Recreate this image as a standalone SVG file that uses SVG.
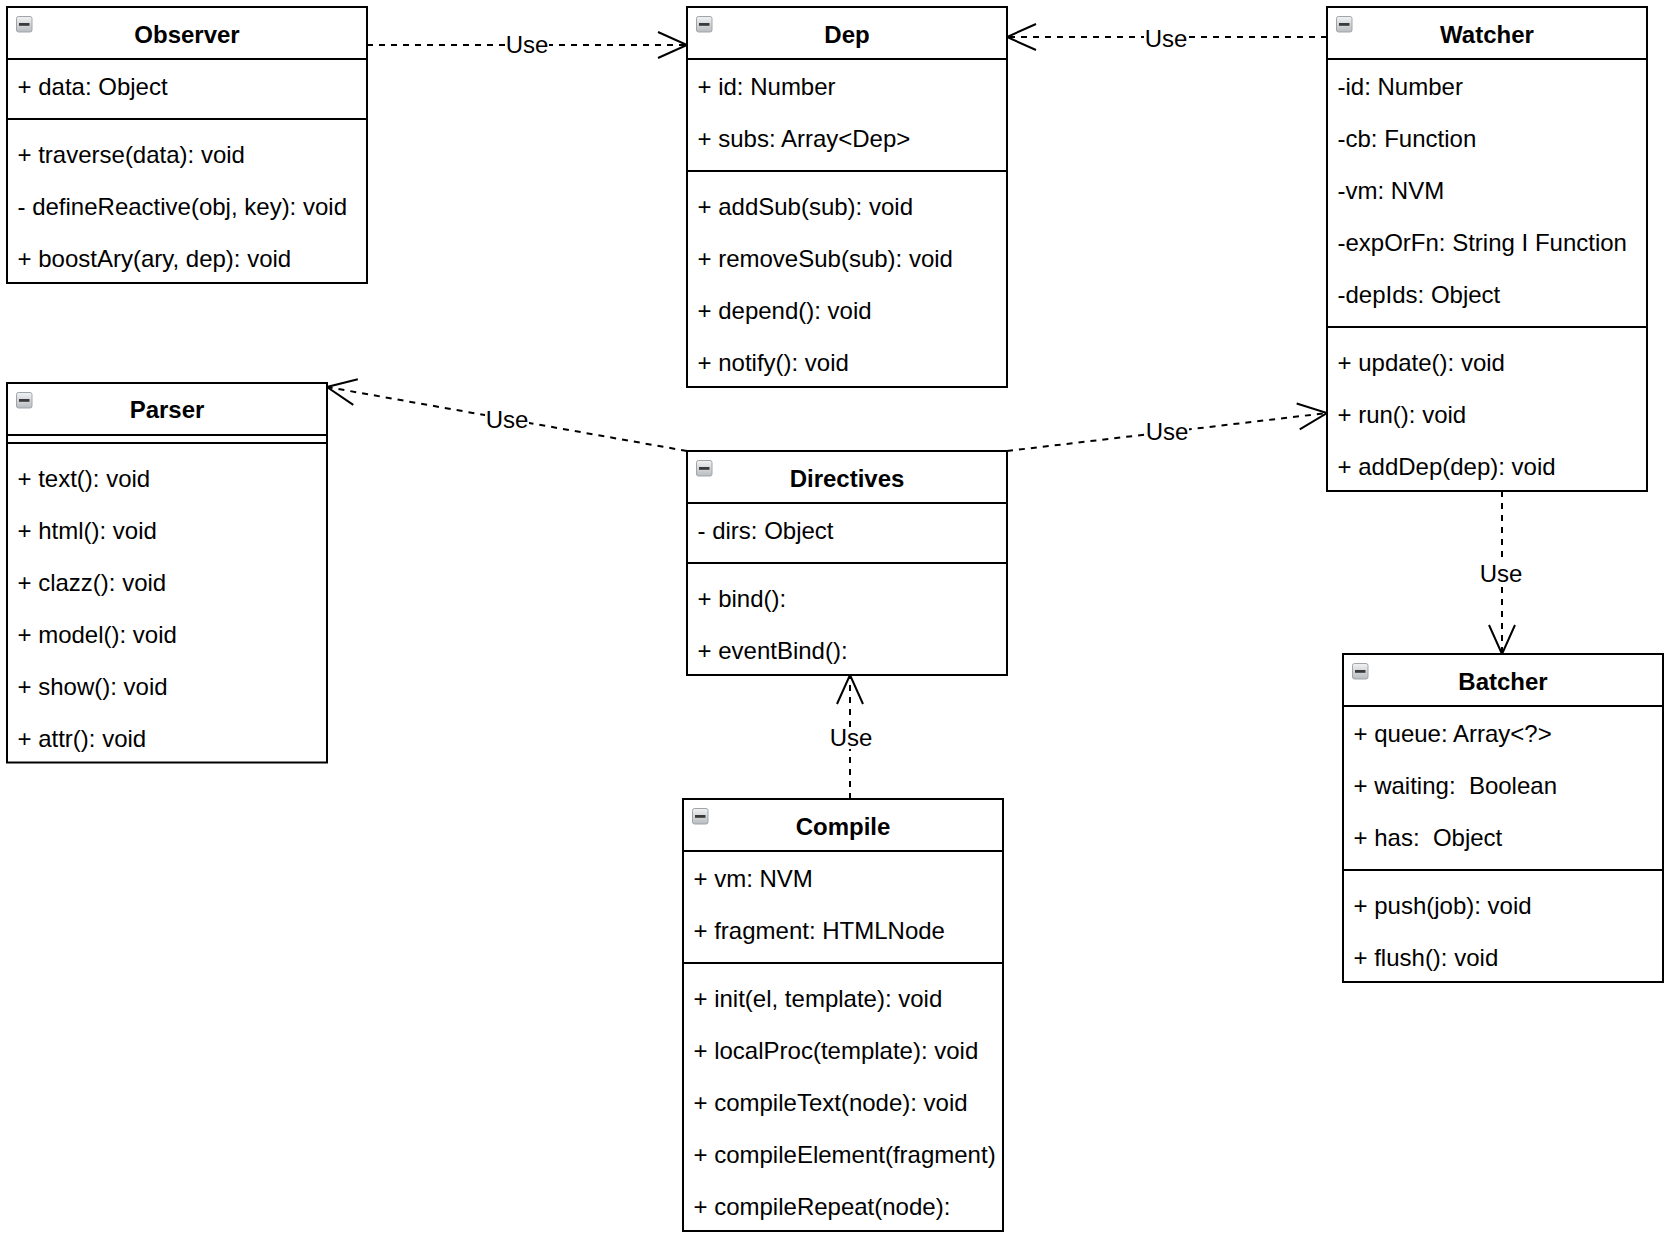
<svg xmlns="http://www.w3.org/2000/svg" xmlns:xlink="http://www.w3.org/1999/xlink" width="1670" height="1238" viewBox="0 0 1670 1238">
<style>
  .box { fill: #ffffff; stroke: #000000; stroke-width: 2; }
  .sep { stroke: #000000; stroke-width: 2; fill: none; }
  .title { font-family: "Liberation Sans", Arial, Helvetica, sans-serif; font-size: 24px; font-weight: bold; fill: #000; text-anchor: middle; }
  .item { font-family: "Liberation Sans", Arial, Helvetica, sans-serif; font-size: 24px; fill: #000; }
  .edge { fill: none; stroke: #000000; stroke-width: 2; stroke-dasharray: 6 6; }
  .lbl { font-family: "Liberation Sans", Arial, Helvetica, sans-serif; font-size: 24px; fill: #000; text-anchor: middle; }
  .lblbg { fill: #ffffff; stroke: none; }
</style>
<defs>
  <linearGradient id="icg" x1="0" y1="0" x2="0" y2="1">
    <stop offset="0" stop-color="#f2f2f2"/>
    <stop offset="1" stop-color="#b9bcc0"/>
  </linearGradient>
  <g id="icon">
    <rect x="0.5" y="0.5" width="15.5" height="15.5" rx="2" fill="url(#icg)" stroke="#9ea4ab" stroke-width="1"/>
    <rect x="3" y="7" width="10.5" height="2.8" fill="#3a3a3a"/>
  </g>
  <marker id="open" markerUnits="userSpaceOnUse" markerWidth="40" markerHeight="40" refX="0" refY="0" orient="auto" overflow="visible">
    <path d="M-29,-13 L0,0 L-29,13" fill="none" stroke="#000000" stroke-width="2" stroke-dasharray="none"/>
  </marker>
</defs>
<rect x="0" y="0" width="1670" height="1238" fill="#ffffff"/>

<g id="connectors">
  <path class="edge" d="M367,45 L687,45" marker-end="url(#open)"/>
  <path class="edge" d="M1327,37 L1007,37" marker-end="url(#open)"/>
  <path class="edge" d="M687,451 L327,387" marker-end="url(#open)"/>
  <path class="edge" d="M1007,451 L1327,413" marker-end="url(#open)"/>
  <path class="edge" d="M850,799 L850,675" marker-end="url(#open)"/>
  <path class="edge" d="M1502,491 L1502,654" marker-end="url(#open)"/>
  <g id="labels">
    <rect class="lblbg" x="505" y="35" width="44" height="20"/>
    <text class="lbl" x="527" y="53.3">Use</text>
    <rect class="lblbg" x="1144" y="28" width="44" height="20"/>
    <text class="lbl" x="1166" y="46.7">Use</text>
    <rect class="lblbg" x="485" y="409" width="44" height="21"/>
    <text class="lbl" x="507" y="428">Use</text>
    <rect class="lblbg" x="1145" y="421" width="44" height="21"/>
    <text class="lbl" x="1167" y="440">Use</text>
    <rect class="lblbg" x="828" y="727" width="46" height="22"/>
    <text class="lbl" x="851" y="746">Use</text>
    <rect class="lblbg" x="1478" y="563" width="46" height="22"/>
    <text class="lbl" x="1501" y="582">Use</text>
  </g>
</g>

<g id="observer">
  <rect class="box" x="7" y="7" width="360" height="276"/>
  <line class="sep" x1="7" y1="59" x2="367" y2="59"/>
  <line class="sep" x1="7" y1="119" x2="367" y2="119"/>
  <use xlink:href="#icon" href="#icon" x="16" y="16"/>
  <text class="title" x="187" y="42.7">Observer</text>
  <text class="item" x="17.5" y="94.5">+ data: Object</text>
  <text class="item" x="17.5" y="162.5">+ traverse(data): void</text>
  <text class="item" x="17.5" y="214.5">- defineReactive(obj, key): void</text>
  <text class="item" x="17.5" y="266.5">+ boostAry(ary, dep): void</text>
</g>

<g id="dep">
  <rect class="box" x="687" y="7" width="320" height="380"/>
  <line class="sep" x1="687" y1="59" x2="1007" y2="59"/>
  <line class="sep" x1="687" y1="171" x2="1007" y2="171"/>
  <use xlink:href="#icon" href="#icon" x="696" y="16"/>
  <text class="title" x="847" y="42.7">Dep</text>
  <text class="item" x="697.5" y="94.5">+ id: Number</text>
  <text class="item" x="697.5" y="146.5">+ subs: Array&lt;Dep&gt;</text>
  <text class="item" x="697.5" y="214.5">+ addSub(sub): void</text>
  <text class="item" x="697.5" y="266.5">+ removeSub(sub): void</text>
  <text class="item" x="697.5" y="318.5">+ depend(): void</text>
  <text class="item" x="697.5" y="370.5">+ notify(): void</text>
</g>

<g id="watcher">
  <rect class="box" x="1327" y="7" width="320" height="484"/>
  <line class="sep" x1="1327" y1="59" x2="1647" y2="59"/>
  <line class="sep" x1="1327" y1="327" x2="1647" y2="327"/>
  <use xlink:href="#icon" href="#icon" x="1336" y="16"/>
  <text class="title" x="1487" y="42.7">Watcher</text>
  <text class="item" x="1337.5" y="94.5">-id: Number</text>
  <text class="item" x="1337.5" y="146.5">-cb: Function</text>
  <text class="item" x="1337.5" y="198.5">-vm: NVM</text>
  <text class="item" x="1337.5" y="250.5">-expOrFn: String I Function</text>
  <text class="item" x="1337.5" y="302.5">-depIds: Object</text>
  <text class="item" x="1337.5" y="370.5">+ update(): void</text>
  <text class="item" x="1337.5" y="422.5">+ run(): void</text>
  <text class="item" x="1337.5" y="474.5">+ addDep(dep): void</text>
</g>

<g id="parser">
  <rect class="box" x="7" y="383" width="320" height="379.5"/>
  <line class="sep" x1="7" y1="435" x2="327" y2="435"/>
  <line class="sep" x1="7" y1="443" x2="327" y2="443"/>
  <use xlink:href="#icon" href="#icon" x="16" y="392"/>
  <text class="title" x="167" y="418.3">Parser</text>
  <text class="item" x="17.5" y="486.5">+ text(): void</text>
  <text class="item" x="17.5" y="538.5">+ html(): void</text>
  <text class="item" x="17.5" y="590.5">+ clazz(): void</text>
  <text class="item" x="17.5" y="642.5">+ model(): void</text>
  <text class="item" x="17.5" y="694.5">+ show(): void</text>
  <text class="item" x="17.5" y="746.5">+ attr(): void</text>
</g>

<g id="directives">
  <rect class="box" x="687" y="451" width="320" height="224"/>
  <line class="sep" x1="687" y1="503" x2="1007" y2="503"/>
  <line class="sep" x1="687" y1="563" x2="1007" y2="563"/>
  <use xlink:href="#icon" href="#icon" x="696" y="460"/>
  <text class="title" x="847" y="486.7">Directives</text>
  <text class="item" x="697.5" y="538.5">- dirs: Object</text>
  <text class="item" x="697.5" y="606.5">+ bind():</text>
  <text class="item" x="697.5" y="658.5">+ eventBind():</text>
</g>

<g id="compile">
  <rect class="box" x="683" y="799" width="320" height="432"/>
  <line class="sep" x1="683" y1="851" x2="1003" y2="851"/>
  <line class="sep" x1="683" y1="963" x2="1003" y2="963"/>
  <use xlink:href="#icon" href="#icon" x="692" y="808"/>
  <text class="title" x="843" y="834.7">Compile</text>
  <text class="item" x="693.5" y="886.5">+ vm: NVM</text>
  <text class="item" x="693.5" y="938.5">+ fragment: HTMLNode</text>
  <text class="item" x="693.5" y="1006.5">+ init(el, template): void</text>
  <text class="item" x="693.5" y="1058.5">+ localProc(template): void</text>
  <text class="item" x="693.5" y="1110.5">+ compileText(node): void</text>
  <text class="item" x="693.5" y="1162.5">+ compileElement(fragment)</text>
  <text class="item" x="693.5" y="1214.5">+ compileRepeat(node):</text>
</g>

<g id="batcher">
  <rect class="box" x="1343" y="654" width="320" height="328"/>
  <line class="sep" x1="1343" y1="706" x2="1663" y2="706"/>
  <line class="sep" x1="1343" y1="870" x2="1663" y2="870"/>
  <use xlink:href="#icon" href="#icon" x="1352" y="663"/>
  <text class="title" x="1503" y="689.7">Batcher</text>
  <text class="item" x="1353.5" y="741.5">+ queue: Array&lt;?&gt;</text>
  <text class="item" x="1353.5" y="793.5" xml:space="preserve">+ waiting:  Boolean</text>
  <text class="item" x="1353.5" y="845.5" xml:space="preserve">+ has:  Object</text>
  <text class="item" x="1353.5" y="913.5">+ push(job): void</text>
  <text class="item" x="1353.5" y="965.5">+ flush(): void</text>
</g>
</svg>
